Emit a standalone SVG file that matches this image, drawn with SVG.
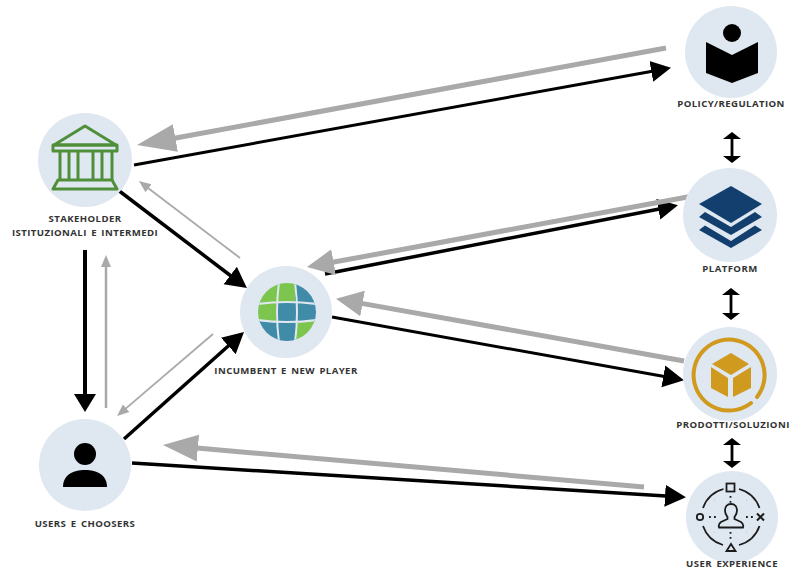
<svg xmlns="http://www.w3.org/2000/svg" width="791" height="572" viewBox="0 0 791 572">
<style>
.bg{fill:#dfe7f1}
.lb{font-family:"Open Sans","Liberation Sans",sans-serif;font-weight:700;font-size:9.600px;letter-spacing:.42px;word-spacing:1.500px;fill:#333;text-anchor:middle}
.k{stroke:#000;fill:none}
.g{stroke:#a9a9a9;fill:none}
.ux{stroke:#1c1c1c;stroke-width:1.8;fill:none}
.dots{stroke:#1c1c1c;stroke-width:1.8;fill:none;stroke-dasharray:1.8 3.2}
</style>
<defs>
<marker id="k18" markerUnits="userSpaceOnUse" markerWidth="22" markerHeight="24" refX="1" refY="12" orient="auto"><path d="M0 1.500 L20 12 L0 22.500Z" fill="#000"/></marker>
<marker id="k20" markerUnits="userSpaceOnUse" markerWidth="24" markerHeight="26" refX="1" refY="13" orient="auto"><path d="M0 2 L21 13 L0 24Z" fill="#000"/></marker>
<marker id="kd" markerUnits="userSpaceOnUse" markerWidth="20" markerHeight="26" refX="1" refY="13" orient="auto"><path d="M0 2 L18 13 L0 24Z" fill="#000"/></marker>
<marker id="g38" markerUnits="userSpaceOnUse" markerWidth="42" markerHeight="32" refX="1" refY="16" orient="auto"><path d="M0 2 L39 16 L0 30Z" fill="#a9a9a9"/></marker>
<marker id="g34" markerUnits="userSpaceOnUse" markerWidth="38" markerHeight="30" refX="1" refY="15" orient="auto"><path d="M0 1.500 L35 15 L0 28.500Z" fill="#a9a9a9"/></marker>
<marker id="g26" markerUnits="userSpaceOnUse" markerWidth="30" markerHeight="30" refX="1" refY="15" orient="auto"><path d="M0 2 L27 15 L0 28Z" fill="#a9a9a9"/></marker>
<marker id="g11" markerUnits="userSpaceOnUse" markerWidth="14" markerHeight="12" refX="1" refY="6" orient="auto"><path d="M0 1 L12 6 L0 11Z" fill="#a9a9a9"/></marker>
<marker id="dbl" markerUnits="userSpaceOnUse" markerWidth="9" markerHeight="20" refX="1" refY="10" orient="auto-start-reverse"><path d="M0 1 L7 10 L0 19Z" fill="#000"/></marker>
<clipPath id="globe"><circle cx="287" cy="312" r="29"/></clipPath>
</defs>

<g id="connectors">
<line class="g" stroke-width="5" x1="666" y1="48" x2="174.400" y2="138.200" marker-end="url(#g38)"/>
<line class="k" stroke-width="3" x1="134" y1="165" x2="652.300" y2="71.200" marker-end="url(#k18)"/>
<line class="k" stroke-width="3.500" x1="118" y1="190" x2="231" y2="276" marker-end="url(#k20)"/>
<line class="g" stroke-width="1.800" x1="240" y1="258" x2="147.700" y2="187.700" marker-end="url(#g11)"/>
<line class="k" stroke-width="4" x1="85" y1="250" x2="85" y2="395" marker-end="url(#kd)"/>
<line class="g" stroke-width="2.500" x1="106" y1="408" x2="106" y2="266" marker-end="url(#g11)"/>
<line class="g" stroke-width="1.800" x1="213" y1="334" x2="125.400" y2="408.900" marker-end="url(#g11)"/>
<line class="k" stroke-width="3.500" x1="124" y1="439" x2="229.100" y2="345.300" marker-end="url(#k20)"/>
<line class="k" stroke-width="3.500" x1="132" y1="463" x2="666" y2="495.900" marker-end="url(#k20)"/>
<line class="g" stroke-width="5" x1="644" y1="487" x2="196.900" y2="448" marker-end="url(#g34)"/>
<line class="k" stroke-width="3" x1="332" y1="317" x2="664.300" y2="376.600" marker-end="url(#k20)"/>
<line class="g" stroke-width="5" x1="684" y1="361" x2="361.600" y2="303.400" marker-end="url(#g26)"/>
<line class="k" stroke-width="3.500" x1="325" y1="274" x2="659.300" y2="209" marker-end="url(#k18)"/>
<line class="g" stroke-width="5" x1="693" y1="196" x2="332.600" y2="262.300" marker-end="url(#g26)"/>
<line class="k" stroke-width="2.800" x1="732" y1="138" x2="732" y2="157" marker-start="url(#dbl)" marker-end="url(#dbl)"/>
<line class="k" stroke-width="2.800" x1="731" y1="294" x2="731" y2="314" marker-start="url(#dbl)" marker-end="url(#dbl)"/>
<line class="k" stroke-width="2.800" x1="732" y1="444" x2="732" y2="462" marker-start="url(#dbl)" marker-end="url(#dbl)"/>
</g>

<g id="stakeholder">
<circle class="bg" cx="85" cy="160" r="47"/>
<g fill="none" stroke="#4f8f3a" stroke-width="3" stroke-linejoin="round">
<path d="M85 126 L54 145 H116Z"/>
<rect x="53" y="145" width="64" height="6"/>
<path d="M60 151V180M69 151V180M78 151V180M93 151V180M102 151V180M112 151V180"/>
<path d="M58 180H112L117 189H53Z"/>
</g>
<text class="lb" x="85" y="222">STAKEHOLDER</text>
<text class="lb" x="85" y="236">ISTITUZIONALI E INTERMEDI</text>
</g>

<g id="policy">
<circle class="bg" cx="731" cy="52" r="46"/>
<circle cx="732" cy="33" r="9" fill="#000"/>
<path d="M706 42 L732 55 L758 42 V73 L732 83 L706 73Z" fill="#000"/>
<text class="lb" x="731" y="107">POLICY/REGULATION</text>
</g>

<g id="platform">
<circle class="bg" cx="730" cy="215" r="47"/>
<g fill="#123f6d">
<path d="M731 186 L762 204 L731 223 L699 204Z"/>
<path d="M705 212 L731 227 L755 212 L762 217 L731 235 L699 217Z"/>
<path d="M705 225.500 L731 241 L755 225.500 L762 230 L731 248 L699 230Z"/>
</g>
<text class="lb" x="730" y="272">PLATFORM</text>
</g>

<g id="prodotti">
<circle class="bg" cx="730" cy="374" r="47"/>
<path d="M757 397 A35.500 35.500 0 1 0 751 403" fill="none" stroke="#d09a1e" stroke-width="4" stroke-linecap="round"/>
<g fill="#d09a1e">
<path d="M731 353 L749 364 L731 375 L712 364Z"/>
<path d="M711 367 L728 378 V397 L711 388Z"/>
<path d="M733 378 L751 367 V388 L733 397Z"/>
</g>
<text class="lb" x="733" y="428">PRODOTTI/SOLUZIONI</text>
</g>

<g id="user-experience">
<circle class="bg" cx="732" cy="517" r="46"/>
<g class="ux">
<path d="M723.500 489 A30 30 0 0 0 703 508"/>
<path d="M739 489 A30 30 0 0 1 759.500 508"/>
<path d="M703 526 A30 30 0 0 0 723 545"/>
<path d="M759.500 526 A30 30 0 0 1 739 545"/>
<rect x="726.500" y="483.500" width="8" height="8"/>
<circle cx="700" cy="517" r="3.200"/>
<path d="M757 513.500 L764 520.500 M764 513.500 L757 520.500" stroke-width="2"/>
<path d="M731 544 L735.500 551 H726.500Z"/>
<path d="M731 504 C735 504 737 507 737 510.500 C737 514 735 516 734.500 517 V519 L741 522 Q744 524 743 527.500 H719 Q718 524 721 522 L727.500 519 V517 C727 516 725 514 725 510.500 C725 507 727 504 731 504Z"/>
</g>
<path class="dots" d="M730.500 496 V503 M730.500 532 V540 M709 517 H716 M746 517 H753 M714.500 500.500 h.1 M746.500 500.500 h.1 M714.500 532.500 h.1 M746.500 532.500 h.1"/>
<text class="lb" x="732" y="567">USER EXPERIENCE</text>
</g>

<g id="incumbent">
<circle class="bg" cx="286" cy="312" r="46"/>
<g clip-path="url(#globe)">
<rect x="258" y="283" width="40" height="19" fill="#7cc650"/>
<rect x="295" y="283" width="21" height="19" fill="#3f8ba8"/>
<rect x="258" y="302" width="22" height="20" fill="#7cc650"/>
<rect x="276" y="302" width="40" height="20" fill="#3f8ba8"/>
<rect x="258" y="321" width="38" height="20" fill="#3f8ba8"/>
<rect x="296" y="321" width="20" height="20" fill="#7cc650"/>
<g fill="none" stroke="#dfe7f1" stroke-width="2">
<path d="M279 282 Q275 312 279 342"/>
<path d="M295 282 Q299 312 295 342"/>
<path d="M257 304 Q287 300 317 304"/>
<path d="M257 320 Q287 324 317 320"/>
</g>
</g>
<text class="lb" x="286" y="374">INCUMBENT E NEW PLAYER</text>
</g>

<g id="users">
<circle class="bg" cx="85" cy="465" r="46"/>
<circle cx="85" cy="454" r="11" fill="#000"/>
<path d="M63 487 C63 475 73 470 85 470 C97 470 107 475 107 487Z" fill="#000"/>
<text class="lb" x="85" y="527">USERS E CHOOSERS</text>
</g>
</svg>
